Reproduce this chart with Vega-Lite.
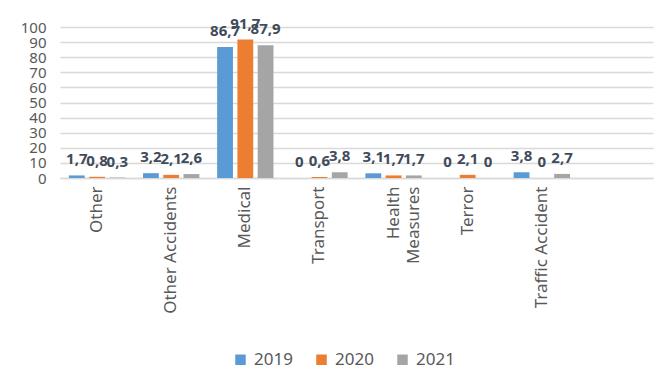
{
  "$schema": "https://vega.github.io/schema/vega-lite/v6.json",
  "width": 593,
  "height": 151,
  "autosize": {"type": "none"},
  "padding": {"left": 60, "top": 27, "right": 15, "bottom": 213},
  "background": "white",
  "config": {
    "font": "Noto Sans",
    "view": {"stroke": null},
    "locale": {"number": {"decimal": ",", "thousands": ".", "grouping": [3], "currency": ["", ""]}}
  },
  "data": {
    "values": [
      {"category": "Other", "year": "2019", "value": 1.7},
      {"category": "Other", "year": "2020", "value": 0.8},
      {"category": "Other", "year": "2021", "value": 0.3},
      {"category": "Other Accidents", "year": "2019", "value": 3.2},
      {"category": "Other Accidents", "year": "2020", "value": 2.1},
      {"category": "Other Accidents", "year": "2021", "value": 2.6},
      {"category": "Medical", "year": "2019", "value": 86.7},
      {"category": "Medical", "year": "2020", "value": 91.7},
      {"category": "Medical", "year": "2021", "value": 87.9},
      {"category": "Transport", "year": "2019", "value": 0},
      {"category": "Transport", "year": "2020", "value": 0.6},
      {"category": "Transport", "year": "2021", "value": 3.8},
      {"category": "Health Measures", "year": "2019", "value": 3.1},
      {"category": "Health Measures", "year": "2020", "value": 1.7},
      {"category": "Health Measures", "year": "2021", "value": 1.7},
      {"category": "Terror", "year": "2019", "value": 0},
      {"category": "Terror", "year": "2020", "value": 2.1},
      {"category": "Terror", "year": "2021", "value": 0},
      {"category": "Traffic Accident", "year": "2019", "value": 3.8},
      {"category": "Traffic Accident", "year": "2020", "value": 0},
      {"category": "Traffic Accident", "year": "2021", "value": 2.7}
    ]
  },
  "encoding": {
    "x": {
      "field": "category",
      "type": "nominal",
      "sort": null,
      "scale": {
        "domain": ["Other", "Other Accidents", "Medical", "Transport", "Health Measures", "Terror", "Traffic Accident", " "],
        "paddingInner": 0.24,
        "paddingOuter": 0.12
      },
      "axis": {
        "title": null,
        "labelAngle": -90,
        "labelFontSize": 17,
        "labelColor": "#595959",
        "labelPadding": 8,
        "labelLimit": 200,
        "labelLineHeight": 20,
        "labelExpr": "datum.value == 'Health Measures' ? ['Health', 'Measures'] : datum.value",
        "ticks": false,
        "domain": true,
        "domainColor": "#d9d9d9",
        "domainWidth": 1.5
      }
    },
    "xOffset": {
      "field": "year",
      "type": "nominal",
      "scale": {"paddingInner": 0.22}
    },
    "y": {
      "field": "value",
      "type": "quantitative",
      "scale": {"domain": [0, 100]},
      "axis": {
        "title": null,
        "values": [0, 10, 20, 30, 40, 50, 60, 70, 80, 90, 100],
        "labelOverlap": false,
        "labelFontSize": 15,
        "labelColor": "#595959",
        "labelPadding": 14,
        "ticks": false,
        "domain": false,
        "grid": true,
        "gridColor": "#d9d9d9",
        "gridWidth": 1.5
      }
    }
  },
  "layer": [
    {
      "mark": {"type": "bar"},
      "encoding": {
        "color": {
          "field": "year",
          "type": "nominal",
          "scale": {"domain": ["2019", "2020", "2021"], "range": ["#5b9bd5", "#ed7d31", "#a5a5a5"]},
          "legend": {
            "title": null,
            "orient": "none",
            "direction": "horizontal",
            "legendX": 172,
            "legendY": 324,
            "symbolType": "square",
            "symbolSize": 110,
            "symbolStrokeWidth": 0,
            "labelFontSize": 17,
            "labelColor": "#595959",
            "columnPadding": 20,
            "labelOffset": 5
          }
        }
      }
    },
    {
      "mark": {"type": "text", "dy": -8, "fontWeight": "bold", "fontSize": 15, "color": "#404b5a", "baseline": "bottom"},
      "encoding": {
        "text": {"field": "value", "type": "quantitative", "format": ".1~f"}
      }
    }
  ]
}
